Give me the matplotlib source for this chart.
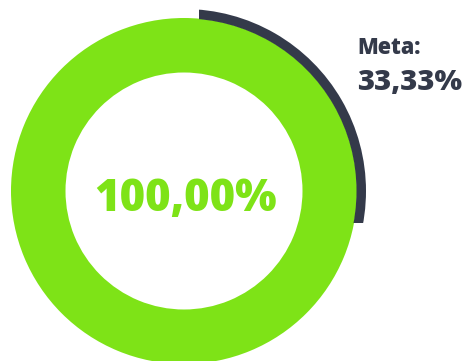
import matplotlib
matplotlib.use("Agg")
import matplotlib.pyplot as plt
from matplotlib.patches import Wedge, Rectangle

# dados
realizado = 100.0
meta = 33.33
label_realizado = "100,00%"
label_meta_titulo = "Meta:"
label_meta = "33,33%"

verde = "#7ee317"
escuro = "#343a4a"

fig = plt.figure(figsize=(4.64, 3.61), dpi=100)
ax = fig.add_axes([0, 0, 1, 1])
ax.set_xlim(0, 464)
ax.set_ylim(0, 361)
ax.set_aspect("equal")
ax.axis("off")

cx, cy = 184, 170

# anel do realizado (sentido horario a partir do topo)
ang_real = realizado / 100 * 360
ax.add_patch(Wedge((cx, cy), 173, 90 - ang_real, 90, width=54.5, color=verde, lw=0))

# arco da meta
ang_meta = meta / 100 * 360
arco = Wedge((cx, cy), 182, 90 - ang_meta, 90, width=9.5, color=escuro, lw=0)
ax.add_patch(arco)
clip = Rectangle((199, 138), 300, 300, transform=ax.transData)
arco.set_clip_path(clip)

ax.text(186, 150, label_realizado, color=verde, fontsize=31.5, fontweight=800,
        family="Open Sans", ha="center", va="baseline")
ax.text(357, 307, label_meta_titulo, color=escuro, fontsize=15.5, fontweight=800,
        family="Open Sans", ha="left", va="baseline")
ax.text(357, 271, label_meta, color=escuro, fontsize=21, fontweight=800,
        family="Open Sans", ha="left", va="baseline")

fig.savefig("out.png", dpi=100)
